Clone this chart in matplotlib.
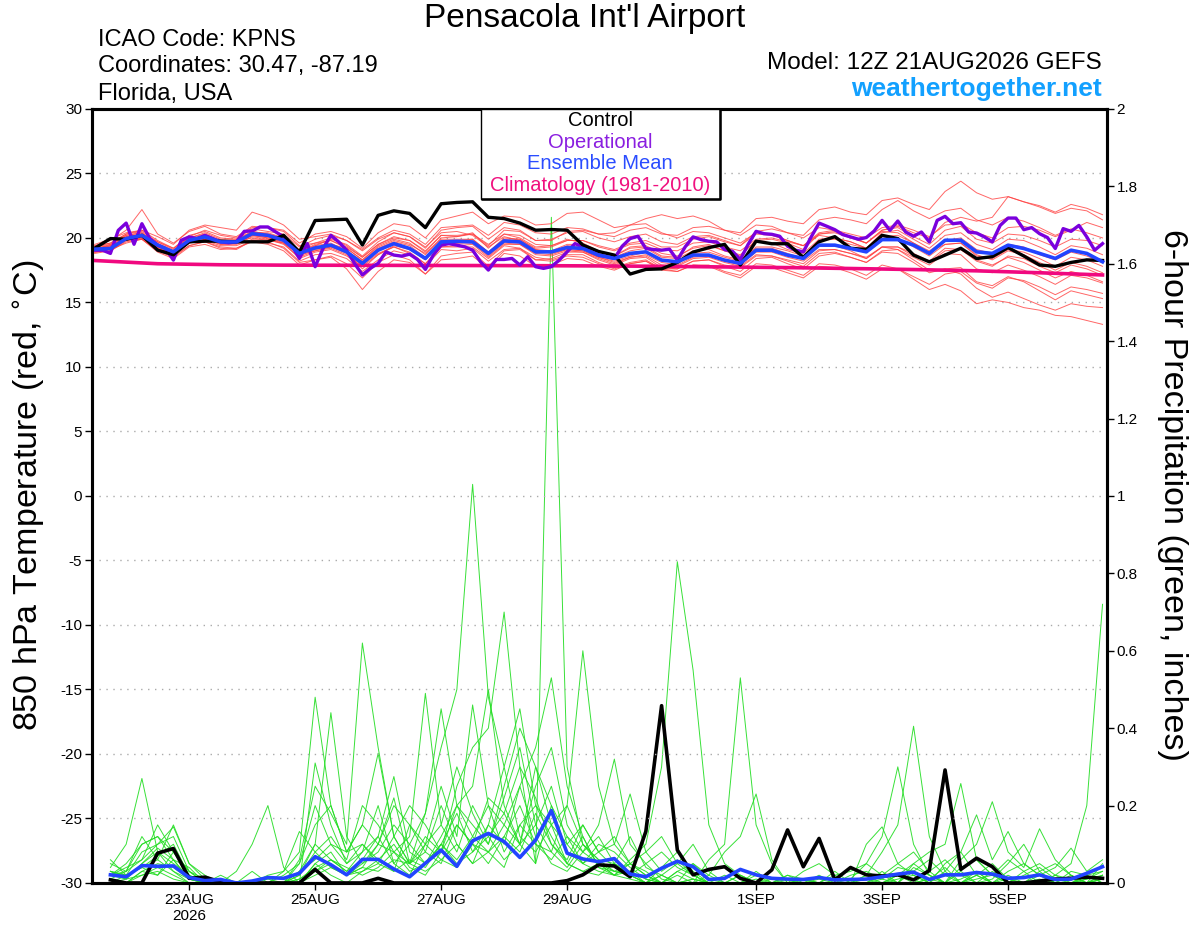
import numpy as np
import pandas as pd
import matplotlib
matplotlib.use("Agg")
import matplotlib.pyplot as plt
from matplotlib.patches import Rectangle

plt.rcParams['font.family'] = ['Liberation Sans', 'DejaVu Sans']

# ---- data ----
run_start = pd.Timestamp('2026-08-21 12:00')
times6 = pd.date_range(run_start, periods=65, freq='6h').to_numpy()
times3 = pd.date_range(run_start, periods=129, freq='3h').to_numpy()
clim_times = pd.date_range(run_start, periods=17, freq='24h').to_numpy()
precip_times = times6[1:]

tick_dates = ['2026-08-23', '2026-08-25', '2026-08-27', '2026-08-29',
              '2026-09-01', '2026-09-03', '2026-09-05']
tick_labels = ['23AUG\n2026', '25AUG', '27AUG', '29AUG', '1SEP', '3SEP', '5SEP']

legend_labels = ['Control', 'Operational', 'Ensemble Mean', 'Climatology (1981-2010)']
legend_colors = ['black', '#8a1ee0', '#2a4cff', '#f0107f']

# 850 hPa temperature (C), 6-hourly
control_temp = [19.2, 19.95, 19.9, 20.2, 19.05, 18.7, 19.7, 19.75, 19.75, 19.7, 19.7, 19.7, 20.2,
                18.9, 21.35, 21.4, 21.45, 19.45, 21.75, 22.1, 21.9, 20.8, 22.65, 22.75, 22.8,
                21.6, 21.5, 21.15, 20.6, 20.65, 20.6, 19.45, 18.95, 18.67, 17.2, 17.56, 17.6,
                18.1, 18.9, 19.25, 19.5, 17.9, 19.75, 19.55, 19.55, 18.5, 19.7, 20.1, 19.2,
                19.1, 20.2, 19.95, 18.67, 18.15, 18.67, 19.2, 18.4, 18.55, 19.25, 18.6, 17.9,
                17.8, 18.1, 18.3, 18.25]

mean_temp = [19.13, 19.18, 19.95, 20.2, 19.44, 18.92, 19.82, 20.08, 19.69, 19.69, 20.33, 20.2,
             19.82, 18.8, 19.23, 19.44, 18.92, 18.03, 19.05, 19.56, 19.18, 18.41, 19.69, 19.74,
             19.69, 18.8, 19.77, 19.69, 18.92, 18.92, 19.26, 19.18, 18.67, 18.41, 18.8, 18.92,
             18.28, 18.15, 18.67, 18.67, 18.28, 18.03, 19.05, 19.05, 18.67, 18.41, 19.44, 19.44,
             19.18, 18.92, 19.87, 19.87, 19.44, 18.8, 19.82, 19.82, 18.92, 18.8, 19.44, 19.18,
             18.8, 18.41, 19.05, 18.8, 18.15]

# operational run, 3-hourly
oper_temp = [19.05, 19.05, 18.8, 20.59, 21.15, 19.51, 21.1, 19.95, 19.44, 19.18, 18.28, 19.82,
             20.08, 19.95, 20.2, 19.95, 19.69, 19.62, 19.69, 20.51, 20.54, 20.85, 20.85, 20.46,
             20.08, 19.44, 18.41, 19.56, 17.77, 19.18, 20.2, 19.69, 19.05, 18.03, 17.13, 17.64,
             18.03, 18.92, 18.67, 18.59, 18.74, 18.33, 17.56, 18.67, 19.44, 19.56, 19.44, 19.31,
             19.05, 18.15, 17.51, 18.33, 18.33, 18.41, 17.9, 18.54, 17.77, 17.64, 17.77, 18.28,
             18.92, 19.56, 19.31, 18.92, 18.67,
             18.54, 18.41, 19.36, 19.95, 20.13, 19.18, 19.1, 19.05, 19.13, 18.28, 19.31, 20.08,
             19.87, 19.74, 19.69, 19.1, 18.97, 18.33, 19.51, 20.51, 20.33, 20.28, 20.13, 19.36,
             19.05, 18.92, 20.08, 21.15, 20.9, 20.64, 20.26, 20.08, 19.9, 20.03, 20.54, 21.36,
             20.59, 21.31, 20.46, 20.13, 20.46, 19.69, 21.36, 21.67, 21.1, 21.18, 20.46, 20.38,
             20.08, 19.69, 20.97, 21.54, 21.54, 20.64, 20.8, 20.33, 20.03, 19.18, 20.72, 20.51,
             20.97, 20.08, 19.05, 19.56]

# climatology, daily at 12Z
clim_temp = [18.25, 18.0, 17.92, 17.89, 17.88, 17.87, 17.86, 17.85, 17.83, 17.8, 17.75, 17.7,
             17.63, 17.55, 17.45, 17.3, 17.13]

# ensemble members, 6-hourly
temp_members = [
    [19.3, 19.6, 20.3, 20.6, 19.8, 19.2, 20.2, 20.5, 20.0, 19.9, 20.7, 20.5, 20.3,
     19.3, 19.9, 20.2, 19.8, 19.1, 20.0, 20.6, 20.3, 19.5, 20.8, 20.9, 21.0, 20.2,
     21.2, 21.0, 20.4, 20.3, 20.8, 20.7, 20.3, 20.1, 20.6, 20.8, 20.3, 20.2, 20.8,
     20.9, 20.6, 20.4, 21.5, 21.6, 21.3, 21.1, 22.2, 22.4, 22.0, 21.8, 22.9, 23.1,
     22.6, 22.2, 23.6, 24.4, 23.5, 23.0, 23.2, 22.8, 22.5, 22.0, 22.6, 22.3, 21.8],
    [18.9, 19.0, 19.7, 19.9, 19.0, 18.5, 19.4, 19.7, 19.3, 19.2, 19.8, 19.6, 19.3,
     18.2, 18.7, 18.8, 18.4, 17.4, 18.3, 19.0, 18.7, 17.8, 19.1, 19.0, 19.2, 18.2,
     19.1, 19.2, 18.3, 18.2, 18.6, 18.5, 18.0, 17.6, 18.0, 18.2, 17.5, 17.4, 17.9,
     17.9, 17.4, 17.1, 18.0, 17.9, 17.5, 17.1, 18.0, 17.9, 17.6, 17.1, 17.9, 17.6,
     16.8, 16.0, 16.4, 15.9, 14.9, 15.2, 15.0, 14.6, 14.4, 14.0, 13.9, 13.6, 13.3],
    [19.4, 19.8, 20.6, 22.2, 20.3, 19.6, 20.5, 20.9, 20.3, 20.1, 20.9, 20.8, 20.5,
     19.4, 19.6, 20.0, 19.4, 18.5, 19.5, 20.1, 19.8, 18.9, 20.2, 20.1, 20.4, 19.2,
     20.3, 20.0, 19.3, 19.4, 19.9, 19.6, 19.0, 18.6, 19.3, 19.4, 18.8, 18.6, 19.2,
     19.4, 19.0, 18.6, 19.8, 19.6, 19.1, 18.8, 19.9, 20.0, 19.7, 19.2, 20.4, 20.6,
     19.9, 19.2, 20.2, 20.4, 19.5, 19.1, 19.9, 19.8, 19.3, 18.7, 19.4, 19.2, 18.7],
    [18.9, 19.1, 19.6, 19.9, 18.9, 18.4, 19.3, 19.5, 19.1, 19.2, 19.7, 19.5, 19.0,
     17.9, 18.3, 18.6, 18.0, 16.9, 18.1, 18.7, 18.3, 17.2, 18.6, 18.8, 18.9, 17.8,
     19.0, 19.1, 18.3, 18.4, 18.9, 18.9, 18.3, 17.9, 18.4, 18.5, 17.7, 17.6, 18.2,
     18.3, 17.8, 17.4, 18.4, 18.5, 18.0, 17.6, 18.6, 18.8, 18.5, 18.1, 19.0, 19.1,
     18.5, 17.9, 18.8, 18.7, 17.6, 17.3, 17.9, 17.5, 17.0, 16.4, 17.1, 16.9, 16.5],
    [19.2, 19.4, 20.1, 20.3, 19.7, 19.1, 20.1, 20.6, 20.2, 20.0, 20.8, 20.8, 20.6,
     19.6, 20.3, 20.5, 20.1, 19.2, 20.4, 21.1, 20.9, 20.0, 21.4, 21.7, 22.0, 21.1,
     21.7, 21.6, 21.0, 21.1, 21.9, 22.0, 21.4, 20.8, 21.0, 21.1, 20.4, 20.0, 20.5,
     20.4, 20.0, 19.6, 20.4, 20.3, 19.8, 19.4, 20.2, 20.0, 19.7, 19.2, 20.1, 20.2,
     19.6, 19.0, 19.8, 20.0, 19.1, 18.8, 19.5, 19.3, 18.7, 18.3, 18.9, 18.6, 18.1],
    [19.0, 19.4, 19.9, 20.1, 19.3, 18.7, 19.6, 19.9, 19.6, 19.7, 20.0, 19.8, 19.6,
     18.7, 19.4, 19.9, 19.5, 18.6, 19.7, 20.4, 20.1, 19.3, 20.4, 20.5, 20.2, 19.3,
     20.1, 19.8, 19.1, 18.8, 19.1, 19.0, 18.5, 18.2, 18.6, 18.9, 18.3, 18.1, 18.8,
     18.9, 18.5, 18.2, 19.3, 19.3, 19.0, 18.6, 19.8, 19.9, 19.5, 19.2, 20.1, 20.0,
     19.3, 18.6, 19.5, 19.6, 18.6, 18.4, 19.1, 18.9, 18.4, 17.8, 18.5, 18.3, 17.8],
    [19.1, 19.3, 20.0, 20.0, 19.2, 18.8, 19.7, 19.9, 19.5, 19.5, 20.1, 19.9, 19.5,
     18.5, 19.0, 19.2, 18.7, 17.9, 18.8, 19.3, 18.9, 18.0, 19.3, 19.3, 19.3, 18.4,
     19.4, 19.2, 18.5, 18.3, 18.7, 18.7, 18.1, 17.7, 18.1, 18.3, 17.6, 17.4, 17.9,
     17.8, 17.3, 16.9, 17.8, 17.7, 17.3, 16.9, 17.8, 17.7, 17.3, 16.8, 17.6, 17.6,
     17.0, 16.4, 17.2, 17.4, 16.5, 16.1, 16.9, 16.7, 16.2, 15.6, 16.2, 16.0, 15.7],
    [19.3, 19.5, 20.2, 20.4, 19.5, 19.0, 20.0, 20.3, 19.8, 19.8, 20.4, 20.4, 20.0,
     19.0, 19.4, 19.6, 19.0, 18.2, 19.2, 19.7, 19.4, 18.5, 19.8, 19.8, 19.9, 18.9,
     19.9, 19.9, 19.2, 19.3, 19.8, 19.8, 19.4, 19.1, 19.6, 19.8, 19.3, 19.3, 19.9,
     20.1, 19.7, 19.4, 20.5, 20.7, 20.4, 20.2, 21.4, 21.6, 21.4, 21.1, 22.2, 22.9,
     22.1, 21.5, 22.1, 22.3, 21.4, 21.0, 21.6, 21.3, 20.8, 20.2, 20.7, 20.4, 20.0],
    [18.8, 19.0, 19.8, 19.9, 19.1, 18.6, 19.4, 19.7, 19.2, 19.1, 19.8, 19.7, 19.2,
     18.1, 18.3, 18.5, 17.6, 16.0, 17.4, 18.3, 18.1, 17.2, 18.3, 18.4, 18.6, 17.6,
     18.8, 18.6, 17.8, 17.9, 18.4, 18.3, 17.8, 17.5, 18.0, 18.2, 17.6, 17.6, 18.2,
     18.3, 17.9, 17.7, 18.6, 18.6, 18.3, 18.0, 19.0, 19.1, 18.8, 18.5, 19.3, 19.3,
     18.6, 18.1, 19.0, 19.1, 18.3, 17.9, 18.5, 18.1, 17.5, 16.9, 17.4, 17.1, 16.6],
    [19.5, 19.9, 20.4, 20.6, 20.1, 19.5, 20.6, 21.0, 20.8, 20.6, 22.0, 21.6, 21.0,
     19.9, 20.1, 20.3, 19.8, 19.0, 19.9, 20.4, 20.1, 19.2, 20.6, 20.8, 20.9, 19.9,
     20.8, 20.6, 19.8, 19.9, 20.4, 20.5, 20.0, 19.7, 20.1, 20.3, 19.7, 19.5, 20.1,
     20.2, 19.8, 19.4, 20.3, 20.2, 19.8, 19.4, 20.3, 20.4, 20.0, 19.6, 20.6, 20.8,
     20.1, 19.5, 20.6, 20.9, 19.9, 19.6, 20.3, 20.2, 19.8, 19.3, 19.9, 19.8, 19.4],
    [19.0, 19.2, 19.9, 20.0, 19.3, 18.9, 19.9, 20.2, 19.8, 19.6, 20.2, 20.0, 19.7,
     18.9, 19.2, 19.5, 19.2, 18.3, 19.3, 19.8, 19.5, 18.8, 19.9, 19.9, 19.9, 18.9,
     20.0, 19.9, 19.1, 19.0, 19.5, 19.5, 19.0, 18.6, 19.2, 19.3, 18.6, 18.5, 19.3,
     19.5, 19.0, 18.7, 19.8, 19.9, 19.6, 19.1, 20.3, 20.5, 20.1, 19.6, 20.6, 20.9,
     20.4, 20.0, 21.2, 21.6, 21.3, 21.6, 23.2, 22.8, 22.4, 21.9, 22.3, 22.1, 21.4],
    [19.2, 19.3, 20.1, 20.3, 19.6, 19.0, 19.8, 20.0, 19.5, 19.6, 20.2, 20.0, 19.8,
     18.6, 19.1, 19.3, 18.9, 17.6, 18.7, 19.4, 19.1, 18.3, 19.5, 19.6, 19.6, 18.6,
     19.6, 19.5, 18.8, 18.7, 19.1, 19.0, 18.5, 18.1, 18.5, 18.6, 17.9, 17.8, 18.4,
     18.5, 18.1, 17.8, 18.7, 18.6, 18.2, 17.8, 18.8, 18.9, 18.5, 18.1, 18.9, 18.8,
     18.1, 17.3, 17.6, 17.7, 16.6, 16.3, 17.0, 16.6, 15.9, 15.2, 15.9, 15.6, 15.3],
    [19.1, 19.5, 20.2, 20.4, 19.5, 18.9, 19.9, 20.2, 19.8, 19.8, 20.5, 20.3, 19.9,
     18.9, 19.5, 19.8, 19.2, 18.3, 19.4, 19.9, 19.6, 18.7, 20.0, 20.1, 20.3, 19.4,
     20.6, 20.5, 19.8, 19.8, 20.5, 20.6, 20.3, 20.4, 21.0, 21.5, 21.8, 21.5, 21.7,
     21.3, 20.6, 20.2, 21.0, 20.9, 20.4, 20.0, 20.8, 20.6, 20.1, 19.6, 20.5, 20.4,
     19.6, 18.9, 19.5, 19.6, 18.7, 18.3, 19.0, 18.7, 18.1, 17.5, 18.1, 17.8, 17.3],
    [18.9, 19.1, 19.8, 20.0, 19.2, 18.7, 19.6, 19.8, 19.4, 19.4, 19.9, 19.9, 19.6,
     18.4, 18.9, 19.1, 18.6, 17.8, 18.7, 19.3, 18.8, 18.0, 19.3, 19.4, 19.5, 18.5,
     19.5, 19.5, 18.7, 18.6, 19.0, 18.9, 18.4, 18.0, 18.5, 18.7, 18.1, 17.9, 18.5,
     18.6, 18.2, 17.9, 18.9, 18.9, 18.5, 18.2, 19.1, 19.1, 18.8, 18.4, 19.3, 19.3,
     18.8, 18.2, 19.2, 19.1, 18.2, 17.8, 18.6, 18.4, 17.8, 17.3, 17.9, 17.6, 17.1],
    [19.2, 19.4, 20.0, 20.2, 19.4, 18.9, 19.7, 20.1, 19.7, 19.6, 20.2, 20.1, 19.6,
     18.7, 19.0, 19.3, 18.8, 18.0, 19.0, 19.6, 19.2, 18.4, 19.6, 19.6, 19.7, 18.7,
     19.7, 19.6, 18.9, 18.9, 19.4, 19.3, 18.8, 18.5, 19.0, 19.2, 18.5, 18.4, 19.0,
     19.1, 18.6, 18.3, 19.2, 19.2, 18.8, 18.4, 19.4, 19.4, 19.0, 18.4, 19.3, 19.1,
     18.3, 17.5, 17.6, 17.2, 16.1, 15.4, 15.8, 15.3, 14.8, 14.4, 14.9, 14.7, 14.6],
    [19.4, 19.6, 20.3, 20.5, 19.7, 19.2, 20.0, 20.4, 19.9, 19.9, 20.5, 20.3, 20.0,
     19.1, 19.6, 19.8, 19.3, 18.5, 19.5, 20.0, 19.8, 19.0, 20.2, 20.2, 20.3, 19.5,
     20.3, 20.2, 19.5, 19.4, 19.8, 19.8, 19.3, 19.0, 19.5, 19.6, 19.1, 19.0, 19.6,
     19.7, 19.3, 19.0, 19.9, 20.0, 19.7, 19.4, 20.4, 20.6, 20.3, 20.0, 20.8, 21.0,
     20.6, 20.1, 21.0, 21.1, 20.4, 20.0, 20.8, 20.9, 20.6, 20.1, 20.6, 21.2, 20.8],
]

# 6-hour precipitation (inches), starts at 18Z
control_precip = [0.008, 0, 0, 0.077, 0.089, 0.012, 0.015, 0.003, 0, 0, 0, 0, 0, 0.035, 0, 0,
                  0, 0.012, 0, 0, 0, 0, 0, 0, 0, 0, 0, 0, 0, 0.006, 0.021, 0.047,
                  0.044, 0.016, 0.133, 0.458, 0.085, 0.021, 0.035, 0.042, 0.012, 0, 0.034, 0.137,
                  0.042, 0.115, 0.008, 0.040,
                  0.021, 0.018, 0.021, 0.008, 0.032, 0.292, 0.035, 0.064, 0.042, 0, 0, 0.005,
                  0.01, 0.012, 0.015, 0.012]

mean_precip = [0.021, 0.016, 0.045, 0.043, 0.044, 0.014, 0.006, 0.009, 0.0, 0.005, 0.014, 0.012,
               0.025, 0.068, 0.047, 0.021,
               0.061, 0.061, 0.036, 0.016, 0.051, 0.085, 0.043, 0.109, 0.128, 0.107, 0.066, 0.111,
               0.187, 0.077, 0.062, 0.055,
               0.063, 0.023, 0.016, 0.038, 0.056, 0.042, 0.009, 0.012, 0.035, 0.021, 0.012, 0.010,
               0.009, 0.014, 0.008, 0.009,
               0.010, 0.016, 0.023, 0.028, 0.009, 0.021, 0.021, 0.027, 0.023, 0.012, 0.014, 0.021,
               0.009, 0.010, 0.025, 0.042]

precip_members = [
    [0.02, 0.01, 0.05, 0.08, 0.03, 0.00, 0.00, 0.00, 0.00, 0.00, 0.01, 0.00, 0.02, 0.10, 0.06, 0.03,
     0.08, 0.12, 0.05, 0.02, 0.10, 0.15, 0.08, 0.20, 0.12, 0.18, 0.30, 0.05, 1.72, 0.30, 0.10, 0.05,
     0.03, 0.02, 0.00, 0.04, 0.08, 0.03, 0.00, 0.00, 0.02, 0.00, 0.00, 0.00, 0.01, 0.00, 0.00, 0.02,
     0.03, 0.01, 0.00, 0.05, 0.02, 0.00, 0.04, 0.06, 0.02, 0.00, 0.00, 0.01, 0.00, 0.00, 0.02, 0.03],
    [0.05, 0.03, 0.10, 0.12, 0.08, 0.02, 0.00, 0.00, 0.00, 0.03, 0.00, 0.00, 0.05, 0.15, 0.20, 0.08,
     0.15, 0.10, 0.22, 0.05, 0.18, 0.35, 0.50, 1.03, 0.48, 0.30, 0.45, 0.20, 0.15, 0.10, 0.05, 0.08,
     0.12, 0.05, 0.02, 0.00, 0.03, 0.01, 0.00, 0.00, 0.00, 0.00, 0.00, 0.00, 0.00, 0.01, 0.00, 0.00,
     0.00, 0.00, 0.02, 0.00, 0.00, 0.00, 0.01, 0.03, 0.00, 0.00, 0.02, 0.04, 0.01, 0.00, 0.00, 0.01],
    [0.01, 0.00, 0.03, 0.02, 0.06, 0.01, 0.00, 0.00, 0.00, 0.00, 0.00, 0.00, 0.00, 0.05, 0.02, 0.00,
     0.03, 0.06, 0.10, 0.04, 0.02, 0.08, 0.15, 0.10, 0.22, 0.18, 0.10, 0.25, 0.35, 0.15, 0.08, 0.05,
     0.02, 0.06, 0.10, 0.30, 0.83, 0.55, 0.15, 0.05, 0.02, 0.00, 0.00, 0.01, 0.00, 0.00, 0.03, 0.00,
     0.00, 0.02, 0.05, 0.08, 0.03, 0.00, 0.00, 0.02, 0.00, 0.03, 0.05, 0.02, 0.00, 0.00, 0.01, 0.02],
    [0.03, 0.02, 0.08, 0.10, 0.12, 0.03, 0.01, 0.00, 0.00, 0.00, 0.00, 0.00, 0.06, 0.25, 0.18, 0.10,
     0.62, 0.35, 0.12, 0.05, 0.08, 0.20, 0.10, 0.05, 0.15, 0.10, 0.25, 0.12, 0.05, 0.03, 0.08, 0.12,
     0.05, 0.02, 0.00, 0.00, 0.02, 0.00, 0.06, 0.10, 0.53, 0.15, 0.05, 0.00, 0.00, 0.02, 0.00, 0.00,
     0.01, 0.00, 0.00, 0.03, 0.06, 0.02, 0.00, 0.00, 0.03, 0.00, 0.00, 0.00, 0.02, 0.01, 0.00, 0.00],
    [0.06, 0.02, 0.04, 0.07, 0.10, 0.02, 0.00, 0.00, 0.00, 0.00, 0.02, 0.03, 0.08, 0.48, 0.20, 0.08,
     0.10, 0.05, 0.12, 0.20, 0.15, 0.08, 0.25, 0.35, 0.40, 0.70, 0.30, 0.22, 0.10, 0.05, 0.12, 0.04,
     0.02, 0.05, 0.03, 0.00, 0.00, 0.01, 0.00, 0.00, 0.00, 0.00, 0.00, 0.02, 0.00, 0.00, 0.00, 0.00,
     0.00, 0.03, 0.00, 0.00, 0.01, 0.04, 0.00, 0.00, 0.00, 0.02, 0.00, 0.00, 0.00, 0.03, 0.02, 0.00],
    [0.00, 0.01, 0.02, 0.04, 0.02, 0.00, 0.00, 0.00, 0.00, 0.00, 0.00, 0.00, 0.00, 0.03, 0.05, 0.02,
     0.04, 0.10, 0.08, 0.03, 0.05, 0.12, 0.20, 0.15, 0.10, 0.25, 0.40, 0.30, 0.15, 0.20, 0.60, 0.25,
     0.10, 0.05, 0.08, 0.12, 0.05, 0.02, 0.00, 0.00, 0.00, 0.01, 0.00, 0.00, 0.00, 0.00, 0.02, 0.03,
     0.05, 0.02, 0.00, 0.00, 0.03, 0.06, 0.02, 0.00, 0.00, 0.01, 0.00, 0.00, 0.02, 0.05, 0.20, 0.72],
    [0.04, 0.10, 0.27, 0.08, 0.05, 0.02, 0.00, 0.00, 0.00, 0.00, 0.00, 0.00, 0.03, 0.10, 0.44, 0.12,
     0.05, 0.08, 0.15, 0.10, 0.05, 0.10, 0.06, 0.12, 0.20, 0.08, 0.15, 0.10, 0.06, 0.12, 0.05, 0.03,
     0.02, 0.01, 0.00, 0.00, 0.03, 0.05, 0.01, 0.00, 0.00, 0.00, 0.00, 0.02, 0.01, 0.00, 0.00, 0.00,
     0.02, 0.08, 0.15, 0.405, 0.12, 0.03, 0.00, 0.02, 0.05, 0.01, 0.00, 0.00, 0.00, 0.02, 0.00, 0.01],
    [0.02, 0.04, 0.06, 0.15, 0.08, 0.03, 0.00, 0.02, 0.00, 0.00, 0.00, 0.00, 0.02, 0.08, 0.12, 0.06,
     0.20, 0.15, 0.08, 0.12, 0.49, 0.15, 0.30, 0.18, 0.10, 0.22, 0.35, 0.15, 0.08, 0.20, 0.10, 0.06,
     0.05, 0.12, 0.04, 0.02, 0.00, 0.00, 0.02, 0.00, 0.00, 0.00, 0.00, 0.00, 0.00, 0.00, 0.00, 0.01,
     0.05, 0.12, 0.30, 0.10, 0.02, 0.00, 0.03, 0.00, 0.01, 0.05, 0.10, 0.03, 0.00, 0.00, 0.01, 0.03],
    [0.01, 0.03, 0.12, 0.06, 0.15, 0.05, 0.01, 0.00, 0.00, 0.00, 0.00, 0.02, 0.05, 0.20, 0.10, 0.05,
     0.08, 0.20, 0.05, 0.10, 0.18, 0.45, 0.20, 0.25, 0.50, 0.20, 0.10, 0.30, 0.20, 0.08, 0.05, 0.10,
     0.08, 0.04, 0.01, 0.00, 0.00, 0.00, 0.00, 0.00, 0.02, 0.00, 0.00, 0.00, 0.00, 0.00, 0.00, 0.00,
     0.00, 0.00, 0.01, 0.02, 0.00, 0.00, 0.00, 0.01, 0.02, 0.06, 0.03, 0.00, 0.00, 0.00, 0.00, 0.00],
    [0.03, 0.01, 0.05, 0.09, 0.06, 0.01, 0.00, 0.00, 0.00, 0.00, 0.00, 0.00, 0.00, 0.05, 0.08, 0.02,
     0.05, 0.10, 0.20, 0.15, 0.10, 0.25, 0.12, 0.46, 0.20, 0.15, 0.25, 0.35, 0.53, 0.25, 0.12, 0.04,
     0.03, 0.02, 0.05, 0.01, 0.00, 0.00, 0.00, 0.02, 0.00, 0.00, 0.01, 0.00, 0.00, 0.00, 0.00, 0.00,
     0.00, 0.00, 0.00, 0.04, 0.02, 0.00, 0.00, 0.00, 0.00, 0.00, 0.00, 0.03, 0.05, 0.02, 0.00, 0.01],
    [0.02, 0.05, 0.10, 0.12, 0.06, 0.04, 0.00, 0.00, 0.03, 0.10, 0.20, 0.04, 0.00, 0.31, 0.15, 0.05,
     0.10, 0.06, 0.03, 0.15, 0.08, 0.05, 0.15, 0.10, 0.05, 0.12, 0.08, 0.18, 0.10, 0.06, 0.15, 0.08,
     0.04, 0.02, 0.00, 0.02, 0.05, 0.10, 0.03, 0.00, 0.00, 0.00, 0.00, 0.00, 0.00, 0.00, 0.00, 0.00,
     0.00, 0.01, 0.04, 0.03, 0.00, 0.00, 0.00, 0.03, 0.00, 0.00, 0.00, 0.00, 0.00, 0.00, 0.00, 0.02],
    [0.01, 0.00, 0.03, 0.05, 0.04, 0.01, 0.00, 0.00, 0.00, 0.00, 0.00, 0.00, 0.03, 0.06, 0.10, 0.08,
     0.15, 0.335, 0.12, 0.05, 0.12, 0.08, 0.20, 0.12, 0.08, 0.15, 0.10, 0.05, 0.20, 0.12, 0.08, 0.15,
     0.32, 0.10, 0.05, 0.08, 0.04, 0.02, 0.00, 0.00, 0.00, 0.03, 0.00, 0.00, 0.01, 0.00, 0.00, 0.00,
     0.02, 0.00, 0.00, 0.00, 0.00, 0.05, 0.08, 0.02, 0.00, 0.00, 0.00, 0.02, 0.00, 0.00, 0.00, 0.00],
    [0.00, 0.02, 0.04, 0.02, 0.08, 0.03, 0.00, 0.00, 0.00, 0.00, 0.00, 0.00, 0.01, 0.04, 0.06, 0.03,
     0.06, 0.12, 0.275, 0.08, 0.05, 0.10, 0.18, 0.08, 0.15, 0.30, 0.12, 0.08, 0.15, 0.05, 0.03, 0.05,
     0.02, 0.03, 0.01, 0.00, 0.00, 0.00, 0.00, 0.00, 0.00, 0.00, 0.00, 0.00, 0.00, 0.00, 0.00, 0.00,
     0.00, 0.00, 0.02, 0.05, 0.08, 0.10, 0.257, 0.06, 0.02, 0.00, 0.03, 0.05, 0.02, 0.00, 0.00, 0.02],
    [0.01, 0.00, 0.02, 0.03, 0.01, 0.00, 0.00, 0.00, 0.00, 0.00, 0.00, 0.00, 0.00, 0.02, 0.04, 0.02,
     0.03, 0.05, 0.03, 0.06, 0.04, 0.10, 0.05, 0.08, 0.12, 0.06, 0.10, 0.15, 0.25, 0.10, 0.15, 0.08,
     0.10, 0.23, 0.08, 0.03, 0.06, 0.02, 0.00, 0.00, 0.00, 0.00, 0.00, 0.00, 0.00, 0.00, 0.00, 0.00,
     0.00, 0.00, 0.00, 0.00, 0.00, 0.00, 0.06, 0.10, 0.21, 0.08, 0.04, 0.14, 0.06, 0.02, 0.00, 0.05],
    [0.02, 0.03, 0.06, 0.10, 0.145, 0.05, 0.02, 0.00, 0.00, 0.00, 0.00, 0.03, 0.133, 0.08, 0.04, 0.02,
     0.04, 0.03, 0.06, 0.05, 0.10, 0.06, 0.04, 0.10, 0.08, 0.12, 0.20, 0.10, 0.08, 0.04, 0.10, 0.06,
     0.03, 0.05, 0.02, 0.00, 0.00, 0.05, 0.02, 0.08, 0.12, 0.23, 0.06, 0.00, 0.00, 0.00, 0.00, 0.00,
     0.00, 0.00, 0.00, 0.00, 0.01, 0.00, 0.00, 0.00, 0.00, 0.00, 0.00, 0.00, 0.00, 0.00, 0.02, 0.00],
    [0.03, 0.02, 0.04, 0.06, 0.03, 0.01, 0.00, 0.00, 0.00, 0.00, 0.00, 0.00, 0.01, 0.03, 0.06, 0.04,
     0.02, 0.04, 0.08, 0.05, 0.03, 0.06, 0.10, 0.05, 0.08, 0.04, 0.15, 0.20, 0.12, 0.05, 0.03, 0.02,
     0.05, 0.03, 0.00, 0.02, 0.00, 0.01, 0.00, 0.00, 0.00, 0.02, 0.00, 0.00, 0.03, 0.05, 0.02, 0.00,
     0.10, 0.145, 0.05, 0.02, 0.00, 0.03, 0.08, 0.176, 0.06, 0.133, 0.05, 0.02, 0.04, 0.09, 0.03, 0.06],
]

# ---- figure ----
fig = plt.figure(figsize=(12, 9.27), dpi=100)
ax = fig.add_axes([0.0767, 0.0475, 0.8458, 0.8350])
ax2 = ax.twinx()
ax.set_zorder(ax2.get_zorder() + 1)
ax.patch.set_visible(False)

# precipitation (right axis)
for member in precip_members:
    ax2.plot(precip_times, member, color='#22dd22', lw=0.7, alpha=0.9)
ax2.plot(precip_times, control_precip, color='black', lw=2.6)
ax2.plot(precip_times, mean_precip, color='#2244ff', lw=2.6)

# temperature (left axis)
for member in temp_members:
    ax.plot(times6, member, color='#ff4040', lw=0.7, alpha=0.8)
ax.plot(clim_times, clim_temp, color='#f0087f', lw=2.6)
ax.plot(times3, oper_temp, color='#7a00dd', lw=2.4)
ax.plot(times6, control_temp, color='black', lw=2.4)
ax.plot(times6, mean_temp, color='#2244ff', lw=2.6)

x0 = run_start - pd.Timedelta(hours=1)
x1 = run_start + pd.Timedelta(hours=385.7)
ax.set_xlim(np.datetime64(x0), np.datetime64(x1))
ax.set_ylim(-30, 30)
ax2.set_ylim(0, 2)

ax.set_yticks(np.arange(-30, 31, 5))
ax.set_yticklabels([str(v) for v in range(-30, 31, 5)])
ax2.set_yticks(np.arange(0, 2.01, 0.2))
ax2.set_yticklabels(['%g' % round(v, 1) for v in np.arange(0, 2.01, 0.2)])
ax.set_xticks([np.datetime64(d) for d in tick_dates])
ax.set_xticklabels(tick_labels)

ax.grid(axis='y', color='#aaaaaa', linestyle=(0, (1, 4)), lw=1.0)
ax.tick_params(axis='both', labelsize=11, length=5, width=1, pad=2)
ax2.tick_params(axis='y', labelsize=11, length=5, width=1, pad=2)
for sp in ax.spines.values():
    sp.set_linewidth(2.2)
for sp in ax2.spines.values():
    sp.set_linewidth(2.2)

# legend box: coloured text only, centred under the top spine
box_l, box_r, box_b = 0.3833, 0.6187, 0.8837
ax.add_patch(Rectangle((box_l, box_b), box_r - box_l, 1.0 - box_b, transform=ax.transAxes,
                       facecolor='white', edgecolor='black', lw=1.0, zorder=10))
ax.plot([box_l, box_r, box_r], [box_b, box_b, 1.0], transform=ax.transAxes,
        color='black', lw=1.8, zorder=11, solid_capstyle='butt')
row_y = [0.9849, 0.9570, 0.9289, 0.9005]
for label, colour, yy in zip(legend_labels, legend_colors, row_y):
    ax.text(0.5005, yy, label, color=colour, transform=ax.transAxes, ha='center',
            va='center', fontsize=14.5, zorder=12)

# headers
fig.text(0.4875, 0.98, "Pensacola Int'l Airport", ha='center', va='center', fontsize=24)
fig.text(0.082, 0.957, 'ICAO Code: KPNS', ha='left', va='center', fontsize=17)
fig.text(0.082, 0.929, 'Coordinates: 30.47, -87.19', ha='left', va='center', fontsize=17)
fig.text(0.082, 0.899, 'Florida, USA', ha='left', va='center', fontsize=17)
fig.text(0.918, 0.932, 'Model: 12Z 21AUG2026 GEFS', ha='right', va='center', fontsize=17.5)
fig.text(0.918, 0.904, 'weathertogether.net', ha='right', va='center', fontsize=19,
         fontweight='bold', color='#12a0ff')
fig.text(0.025, 0.466, '850 hPa Temperature (red, $^{\\circ}$C)', rotation=90,
         ha='center', va='center', fontsize=24.5)
fig.text(0.977, 0.466, '6-hour Precipitation (green, inches)', rotation=-90,
         ha='center', va='center', fontsize=24.5)

fig.savefig('out.png', dpi=100)
